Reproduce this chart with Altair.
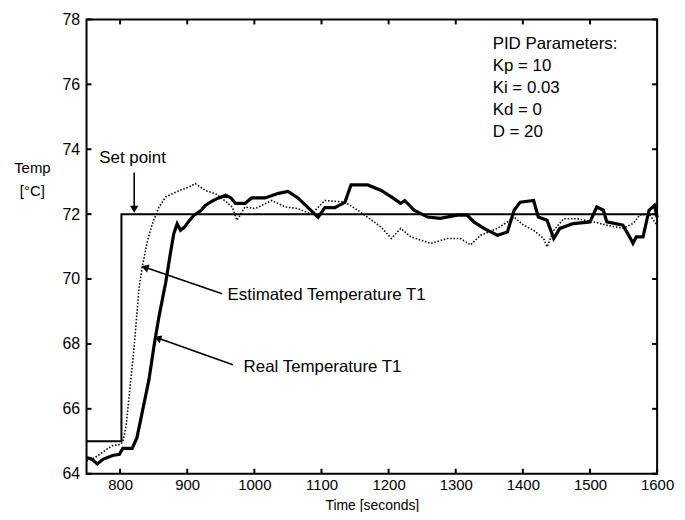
import altair as alt
import pandas as pd

# ---------------- data ----------------
real_t = [750, 758, 766, 775, 789, 799, 804, 818, 825, 833, 843, 851, 858, 868, 875, 880, 885, 890, 896,
          903, 910, 920, 927, 937, 947, 957, 965, 972, 986, 996, 1016, 1036, 1050, 1065, 1085, 1095, 1105,
          1120, 1135, 1144, 1169, 1189, 1204, 1218, 1224, 1238, 1258, 1277, 1302, 1317, 1327, 1342, 1362,
          1377, 1387, 1396, 1416, 1423, 1436, 1446, 1455, 1475, 1500, 1510, 1520, 1525, 1549, 1559, 1564,
          1569, 1579, 1588, 1596, 1600]
real_v = [64.5, 64.45, 64.3, 64.45, 64.56, 64.6, 64.78, 64.78, 65.1, 65.9, 66.9, 68.0, 68.85, 69.9, 70.8,
          71.4, 71.7, 71.5, 71.6, 71.8, 71.97, 72.1, 72.27, 72.4, 72.5, 72.58, 72.5, 72.33, 72.33, 72.5,
          72.5, 72.64, 72.7, 72.5, 72.1, 71.9, 72.2, 72.2, 72.37, 72.9, 72.9, 72.73, 72.53, 72.33, 72.42,
          72.12, 71.91, 71.87, 71.97, 71.97, 71.76, 71.56, 71.35, 71.45, 72.12, 72.37, 72.42, 71.91, 71.81,
          71.25, 71.56, 71.71, 71.76, 72.22, 72.12, 71.76, 71.66, 71.3, 71.1, 71.3, 71.3, 72.12, 72.27, 71.9]

est_t = [750, 759, 770, 780, 789, 800, 804, 809, 814, 821, 828, 833, 841, 848, 858, 868, 883, 903, 912,
         927, 942, 957, 967, 974, 986, 1001, 1026, 1046, 1065, 1085, 1105, 1135, 1154, 1169, 1189, 1204,
         1218, 1233, 1263, 1288, 1307, 1322, 1337, 1362, 1377, 1387, 1401, 1416, 1431, 1436, 1446, 1461,
         1480, 1505, 1525, 1549, 1564, 1574, 1588, 1600]
est_v = [64.4, 64.46, 64.6, 64.75, 64.87, 64.9, 64.98, 65.48, 66.5, 67.93, 69.67, 70.38, 71.2, 71.7, 72.22,
         72.53, 72.68, 72.84, 72.94, 72.73, 72.63, 72.4, 72.22, 71.81, 72.22, 72.17, 72.42, 72.22, 72.17,
         72.0, 72.42, 72.37, 72.12, 71.9, 71.6, 71.25, 71.56, 71.3, 71.1, 71.25, 71.25, 71.05, 71.35, 71.56,
         71.76, 71.91, 71.66, 71.5, 71.25, 70.99, 71.5, 71.86, 71.86, 71.76, 71.66, 71.56, 71.71, 71.97,
         72.0, 71.66]

sp_t = [750, 802, 802, 1600]
sp_v = [65, 65, 72, 72]

x_ticks = [800, 900, 1000, 1100, 1200, 1300, 1400, 1500, 1600]
y_ticks = [64, 66, 68, 70, 72, 74, 76, 78]

# annotations (data units)
ann_text = ["Set point", "Estimated Temperature T1", "Real Temperature T1"]
ann_x = [769, 960, 984]
ann_y = [73.74, 69.50, 67.3]

arrow_x = [821, 952, 968]
arrow_y = [73.28, 69.55, 67.36]
arrow_x2 = [821, 837, 856]
arrow_y2 = [72.15, 70.36, 68.18]
arrow_angle = [180, 288, 290]

pid_lines = ["PID Parameters:", "Kp = 10", "Ki = 0.03", "Kd = 0", "D = 20"]
pid_x = [1355] * 5
pid_y = [77.23, 76.56, 75.88, 75.21, 74.54]

# ---------------- chart ----------------
W, H = 574, 457
FONT = "Liberation Sans"

xs = alt.Scale(domain=[750, 1600], nice=False, zero=False)
ys = alt.Scale(domain=[64, 78], nice=False, zero=False)

xaxis = alt.Axis(values=x_ticks, format="d", ticks=False, domain=False, grid=False, labelFontSize=15,
                 labelColor="black", labelPadding=4, title="Time [seconds]", titleFontSize=14,
                 titleFontWeight="normal", titleColor="black", titleBaseline="bottom", titleY=39,
                 labelFlush=False)
yaxis = alt.Axis(values=y_ticks, format="d", ticks=False, domain=False, grid=False, labelFontSize=16,
                 labelColor="black", labelPadding=7, title=["Temp", "[°C]"], titleAngle=0,
                 titleFontSize=15, titleFontWeight="normal", titleColor="black",
                 titleAlign="center", titleBaseline="top", titleX=-55, titleY=142,
                 titleLineHeight=23)

real_df = pd.DataFrame({"t": real_t, "v": real_v})
est_df = pd.DataFrame({"t": est_t, "v": est_v})
sp_df = pd.DataFrame({"t": sp_t, "v": sp_v, "o": list(range(len(sp_t)))})

base_axes = alt.Chart(sp_df).mark_line(color="black", strokeWidth=2).encode(
    x=alt.X("t:Q", scale=xs, axis=xaxis),
    y=alt.Y("v:Q", scale=ys, axis=yaxis),
    order="o:Q",
)

est_line = alt.Chart(est_df).mark_line(color="black", strokeWidth=1.6, strokeDash=[1.5, 1.8]).encode(
    x=alt.X("t:Q", scale=xs), y=alt.Y("v:Q", scale=ys))

real_line = alt.Chart(real_df).mark_line(color="black", strokeWidth=3.2).encode(
    x=alt.X("t:Q", scale=xs), y=alt.Y("v:Q", scale=ys))

xt_df = pd.DataFrame({"t": x_ticks})
yt_df = pd.DataFrame({"v": y_ticks})
tick_bottom = alt.Chart(xt_df).mark_rule(color="black", strokeWidth=2).encode(
    x=alt.X("t:Q", scale=xs), y=alt.value(H), y2=alt.value(H - 5))
tick_top = alt.Chart(xt_df).mark_rule(color="black", strokeWidth=2).encode(
    x=alt.X("t:Q", scale=xs), y=alt.value(0), y2=alt.value(5))
tick_left = alt.Chart(yt_df).mark_rule(color="black", strokeWidth=2).encode(
    y=alt.Y("v:Q", scale=ys), x=alt.value(0), x2=alt.value(5))
tick_right = alt.Chart(yt_df).mark_rule(color="black", strokeWidth=2).encode(
    y=alt.Y("v:Q", scale=ys), x=alt.value(W), x2=alt.value(W - 5))

ann_df = pd.DataFrame({"text": ann_text, "x": ann_x, "y": ann_y})
ann = alt.Chart(ann_df).mark_text(align="left", baseline="middle", fontSize=17, font=FONT,
                                  color="black").encode(
    x=alt.X("x:Q", scale=xs), y=alt.Y("y:Q", scale=ys), text="text:N")

arr_df = pd.DataFrame({"x": arrow_x, "y": arrow_y, "x2": arrow_x2, "y2": arrow_y2, "a": arrow_angle})
arr_lines = alt.Chart(arr_df).mark_rule(color="black", strokeWidth=1.6).encode(
    x=alt.X("x:Q", scale=xs), y=alt.Y("y:Q", scale=ys), x2="x2:Q", y2="y2:Q")
arr_heads = alt.Chart(arr_df).mark_point(shape="triangle-up", filled=True, color="black", size=70,
                                         opacity=1).encode(
    x=alt.X("x2:Q", scale=xs), y=alt.Y("y2:Q", scale=ys), angle=alt.Angle("a:Q", scale=None))

pid_df = pd.DataFrame({"text": pid_lines, "x": pid_x, "y": pid_y})
pid = alt.Chart(pid_df).mark_text(align="left", baseline="middle", fontSize=17, font=FONT,
                                  color="black").encode(
    x=alt.X("x:Q", scale=xs), y=alt.Y("y:Q", scale=ys), text="text:N")

chart = alt.layer(base_axes, est_line, real_line, tick_bottom, tick_top, tick_left, tick_right,
                  arr_lines, arr_heads, ann, pid).properties(
    width=W, height=H,
    autosize=alt.AutoSizeParams(type="none"),
    padding={"left": 79, "top": 10, "right": 20, "bottom": 37},
).configure(font=FONT, background="white").configure_view(stroke="black", strokeWidth=2)

chart.save("out.html", embed_options={"renderer": "svg", "actions": False})
